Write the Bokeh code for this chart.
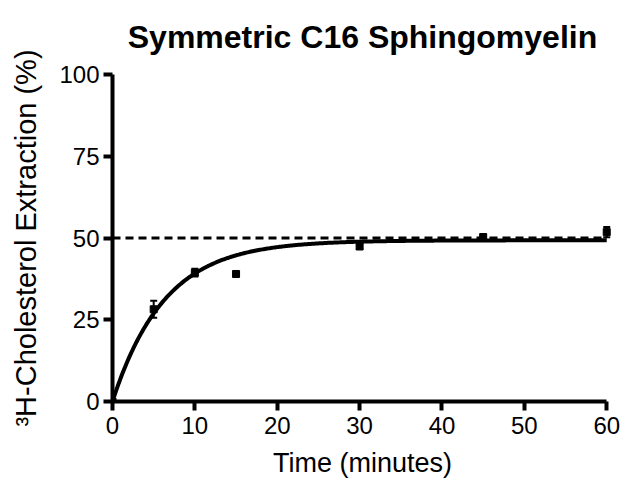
import numpy as np
from bokeh.plotting import figure
from bokeh.models import Range1d, ColumnDataSource, Whisker, TeeHead, FixedTicker
from bokeh.embed import file_html
from bokeh.resources import INLINE

# Data
time_min = [0, 5, 10, 15, 30, 45, 60]
extraction = [0, 28.2, 39.4, 39.0, 47.4, 50.3, 51.8]
sem = [0, 2.6, 1.2, 0.3, 0.8, 0.6, 1.6]

# One-phase association fit (plateau, rate constant)
fit_plateau = 49.3
fit_k = 0.158
reference_level = 50

x_ticks = [0, 10, 20, 30, 40, 50, 60]
y_ticks = [0, 25, 50, 75, 100]

title_text = "Symmetric C16 Sphingomyelin"
x_label = "Time (minutes)"
y_label = "³H-Cholesterol Extraction (%)"

FONT = "Liberation Sans"
FRAME_W, FRAME_H = 500, 327

p = figure(frame_width=FRAME_W, frame_height=FRAME_H,
           x_range=Range1d(0, 60.7), y_range=Range1d(0, 100),
           output_backend="svg", toolbar_location=None,
           min_border_left=112, min_border_right=11,
           min_border_top=74, min_border_bottom=86,
           background_fill_color="white", border_fill_color="white")
p.outline_line_color = None
p.grid.visible = False

p.title.text = title_text
p.title.align = "center"
p.title.vertical_align = "top"
p.title.text_font = FONT
p.title.text_font_style = "bold"
p.title.text_font_size = "32px"
p.title.text_color = "black"
p.title.standoff = 35

for ax in (p.xaxis[0], p.yaxis[0]):
    ax.axis_line_width = 4
    ax.axis_line_color = "black"
    ax.major_tick_line_width = 4
    ax.major_tick_line_color = "black"
    ax.major_tick_out = 9
    ax.major_tick_in = 0
    ax.minor_tick_line_color = None
    ax.major_label_text_font = FONT
    ax.major_label_text_font_size = "24px"
    ax.major_label_text_color = "black"
    ax.axis_label_text_font = FONT
    ax.axis_label_text_font_style = "normal"
    ax.axis_label_text_color = "black"

p.xaxis[0].axis_label_text_font_size = "27px"
p.yaxis[0].axis_label_text_font_size = "29px"
p.xaxis[0].ticker = FixedTicker(ticks=x_ticks)
p.yaxis[0].ticker = FixedTicker(ticks=y_ticks)
p.xaxis[0].bounds = (0, 60)
p.yaxis[0].bounds = (0, 100)
p.xaxis[0].axis_label = x_label
p.yaxis[0].axis_label = y_label
p.xaxis[0].major_label_standoff = 6
p.yaxis[0].major_label_standoff = 4
p.xaxis[0].axis_label_standoff = 11
p.yaxis[0].axis_label_standoff = 14

# dashed reference line
p.line(x=[time_min[0], time_min[-1]], y=[reference_level, reference_level],
       line_color="black", line_width=2.8, line_dash="8 5")

# fitted curve
xf = np.linspace(time_min[0], time_min[-1], 400)
yf = fit_plateau * (1 - np.exp(-fit_k * xf))
p.line(x=xf, y=yf, line_color="black", line_width=4)

src = ColumnDataSource(dict(
    x=time_min, y=extraction,
    lo=[v - e for v, e in zip(extraction, sem)],
    hi=[v + e for v, e in zip(extraction, sem)],
))
w = Whisker(base="x", lower="lo", upper="hi", source=src,
            line_color="black", line_width=2,
            upper_head=TeeHead(size=7, line_width=2, line_color="black"),
            lower_head=TeeHead(size=7, line_width=2, line_color="black"))
p.add_layout(w)
p.scatter(x="x", y="y", source=src, marker="square", size=7,
          fill_color="black", line_color="black")

open("out.html", "w").write(file_html(p, INLINE))
